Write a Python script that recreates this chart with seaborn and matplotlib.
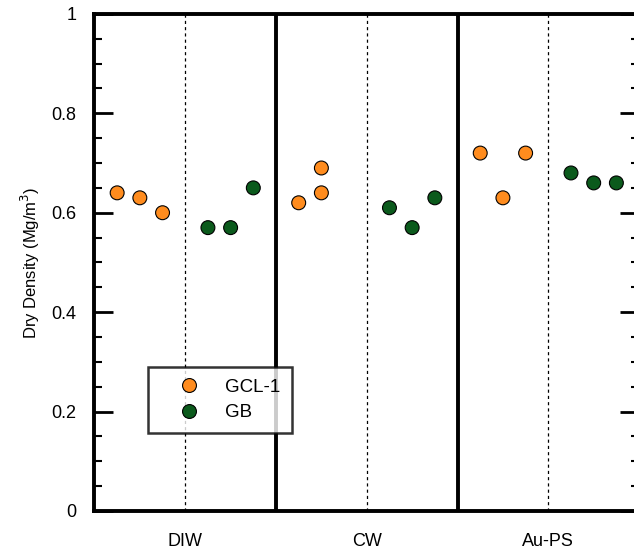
import matplotlib
matplotlib.use("Agg")
import matplotlib.pyplot as plt
import seaborn as sns
import pandas as pd
from matplotlib.ticker import MultipleLocator

# Permeant solutions and specimen positions along the x axis
solutions = ["DIW", "CW", "Au-PS"]
solution_ticks = [1, 3, 5]

# GCL-1 specimens
gcl_x = [0.25, 0.5, 0.75, 2.25, 2.5, 2.5, 4.25, 4.5, 4.75]
gcl_density = [0.64, 0.63, 0.60, 0.62, 0.69, 0.64, 0.72, 0.63, 0.72]

# GB specimens
gb_x = [1.25, 1.5, 1.75, 3.25, 3.5, 3.75, 5.25, 5.5, 5.75]
gb_density = [0.57, 0.57, 0.65, 0.61, 0.57, 0.63, 0.68, 0.66, 0.66]

df = pd.concat([
    pd.DataFrame({"x": gcl_x, "density": gcl_density, "Material": "GCL-1"}),
    pd.DataFrame({"x": gb_x, "density": gb_density, "Material": "GB"}),
], ignore_index=True)

sns.set_style("white")
plt.rcParams["font.family"] = ["Liberation Sans", "DejaVu Sans"]
plt.rcParams["text.color"] = "black"
plt.rcParams["axes.labelcolor"] = "black"
plt.rcParams["xtick.color"] = "black"
plt.rcParams["ytick.color"] = "black"

fig = plt.figure(figsize=(6.34, 5.56), dpi=100)
ax = fig.add_axes([0.149, 0.081, 0.859, 0.894])

palette = {"GCL-1": "#FF8C1E", "GB": "#0B5A1C"}
sns.scatterplot(data=df, x="x", y="density", hue="Material", palette=palette,
                s=100, edgecolor="black", linewidth=0.8, ax=ax, zorder=3)

# Panel separators
for xv in [2, 4]:
    ax.axvline(xv, color="black", lw=2.8, zorder=2)
for xv in [1, 3, 5]:
    ax.axvline(xv, color="black", lw=0.9, ls=(0, (2.5, 2.5)), zorder=1)

ax.set_xlim(0, 6)
ax.set_ylim(0, 1)
ax.set_xticks(solution_ticks)
ax.set_xticklabels(solutions)
ax.tick_params(axis="x", length=0, pad=16, labelsize=13)

ax.yaxis.set_major_locator(MultipleLocator(0.2))
ax.yaxis.set_minor_locator(MultipleLocator(0.05))
ax.set_yticks([0, 0.2, 0.4, 0.6, 0.8, 1.0])
ax.set_yticklabels(["0", "0.2", "0.4", "0.6", "0.8", "1"])
ax.tick_params(axis="y", which="major", direction="in", length=14, width=2,
               left=True, right=True, labelsize=13, pad=13)
ax.tick_params(axis="y", which="minor", direction="in", length=6, width=1.5,
               left=True, right=True)

for sp in ax.spines.values():
    sp.set_linewidth(2.8)
    sp.set_color("black")

ax.set_xlabel("")
ax.set_ylabel("Dry Density (Mg/m$^3$)", fontsize=12, labelpad=7)

leg = ax.legend(loc="upper left", bbox_to_anchor=(0.098, 0.29),
                frameon=True, fancybox=False, edgecolor="black",
                fontsize=13.5, handletextpad=0.3, borderpad=0.62,
                borderaxespad=0, markerscale=1.0, labelspacing=0.45,
                handlelength=3.2)
leg.get_frame().set_linewidth(1.8)
leg.get_frame().set_edgecolor("black")
for h in leg.legend_handles:
    h.set_markeredgecolor("black")
    h.set_markeredgewidth(0.8)

fig.savefig("out.png", dpi=100)
